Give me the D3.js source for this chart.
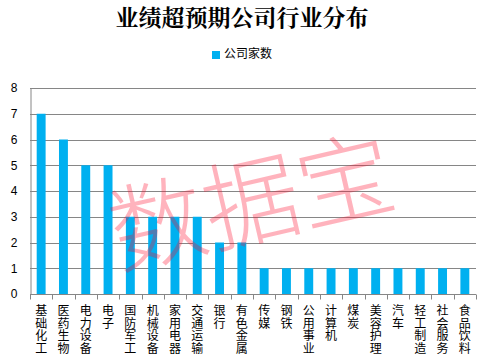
<!DOCTYPE html>
<html><head><meta charset="utf-8">
<script src="https://cdn.jsdelivr.net/npm/d3@7"></script>
<style>body{margin:0;background:#fff}svg{display:block}</style>
</head><body>
<script>
const categories = ["基础化工","医药生物","电力设备","电子","国防军工","机械设备","家用电器","交通运输","银行","有色金属","传媒","钢铁","公用事业","计算机","煤炭","美容护理","汽车","轻工制造","社会服务","食品饮料"];
const values = [7,6,5,5,3,3,3,3,2,2,1,1,1,1,1,1,1,1,1,1];
const yTicks = [0,1,2,3,4,5,6,7,8];
const title = "业绩超预期公司行业分布";
const seriesName = "公司家数";
const watermark = "数据宝";

const W = 480, H = 364;
const m = {left: 30, right: 4, top: 88, bottom: 70};
const svg = d3.select("body").append("svg").attr("width", W).attr("height", H);
const font = "'Liberation Sans', Arial, 'Noto Sans CJK SC', sans-serif";

const x = d3.scaleBand().domain(categories).range([m.left, W - m.right]).paddingInner(0.6).paddingOuter(0.3);
const y = d3.scaleLinear().domain([0, 8]).range([H - m.bottom, m.top]);

// gridlines
svg.append("g").selectAll("line").data(yTicks.filter(d => d > 0)).join("line")
  .attr("x1", m.left).attr("x2", W - m.right)
  .attr("y1", d => Math.round(y(d)) + 0.5).attr("y2", d => Math.round(y(d)) + 0.5)
  .attr("stroke", "#868686").attr("stroke-width", 1);

// bars
svg.append("g").selectAll("rect").data(values).join("rect")
  .attr("x", (d, i) => x(categories[i]))
  .attr("width", x.bandwidth())
  .attr("y", d => y(d))
  .attr("height", d => y(0) - y(d))
  .attr("fill", "#00b0f0");

// y axis
const yAxis = svg.append("g").attr("transform", `translate(${m.left + 0.5},0)`)
  .call(d3.axisLeft(y).tickValues(yTicks).tickSize(0).tickPadding(13).tickFormat(d3.format("d")));
yAxis.select(".domain").attr("stroke", "#868686");
yAxis.selectAll("text").attr("font-family", font).attr("font-size", 12).attr("fill", "#000");

// x axis
const xAxisG = svg.append("g").attr("transform", `translate(0,${Math.round(y(0)) + 0.5})`);
xAxisG.append("line").attr("x1", m.left).attr("x2", W - m.right).attr("stroke", "#868686");
const tickXs = d3.range(categories.length + 1).map(i => m.left + i * (W - m.right - m.left) / categories.length);
xAxisG.selectAll(".tk").data(tickXs).join("line").attr("class", "tk")
  .attr("x1", d => Math.round(d) + 0.5).attr("x2", d => Math.round(d) + 0.5)
  .attr("y1", 0).attr("y2", 5).attr("stroke", "#868686");

// vertical category labels (stacked characters)
const lab = svg.append("g").selectAll("text").data(categories).join("text")
  .attr("font-family", "'Noto Sans CJK SC', sans-serif").attr("font-size", 12).attr("fill", "#000")
  .attr("text-anchor", "middle");
lab.each(function(c) {
  const t = d3.select(this);
  const cx = x(c) + x.bandwidth() / 2;
  Array.from(c).forEach((ch, i) => {
    t.append("tspan").attr("x", cx).attr("y", 315 + i * 12.5).text(ch);
  });
});

// title
svg.append("text").attr("x", 242).attr("y", 26).attr("text-anchor", "middle")
  .attr("font-family", "'Noto Serif CJK SC', 'Noto Sans CJK SC', serif").attr("font-weight", "bold")
  .attr("font-size", 23).attr("fill", "#000").text(title);

// legend
svg.append("rect").attr("x", 212).attr("y", 51).attr("width", 8).attr("height", 8).attr("fill", "#00b0f0");
svg.append("text").attr("x", 224).attr("y", 58).attr("font-family", "'Noto Sans CJK SC', sans-serif")
  .attr("font-size", 12).attr("fill", "#000").text(seriesName);

// watermark
svg.append("text").attr("transform", "translate(250,196) rotate(-13)")
  .attr("text-anchor", "middle").attr("dominant-baseline", "central")
  .attr("font-family", "'Noto Sans CJK SC', sans-serif").attr("font-weight", 300).attr("font-size", 96)
  .attr("fill", "rgb(255,10,42)").attr("fill-opacity", 0.31).text(watermark);
</script>
</body></html>
